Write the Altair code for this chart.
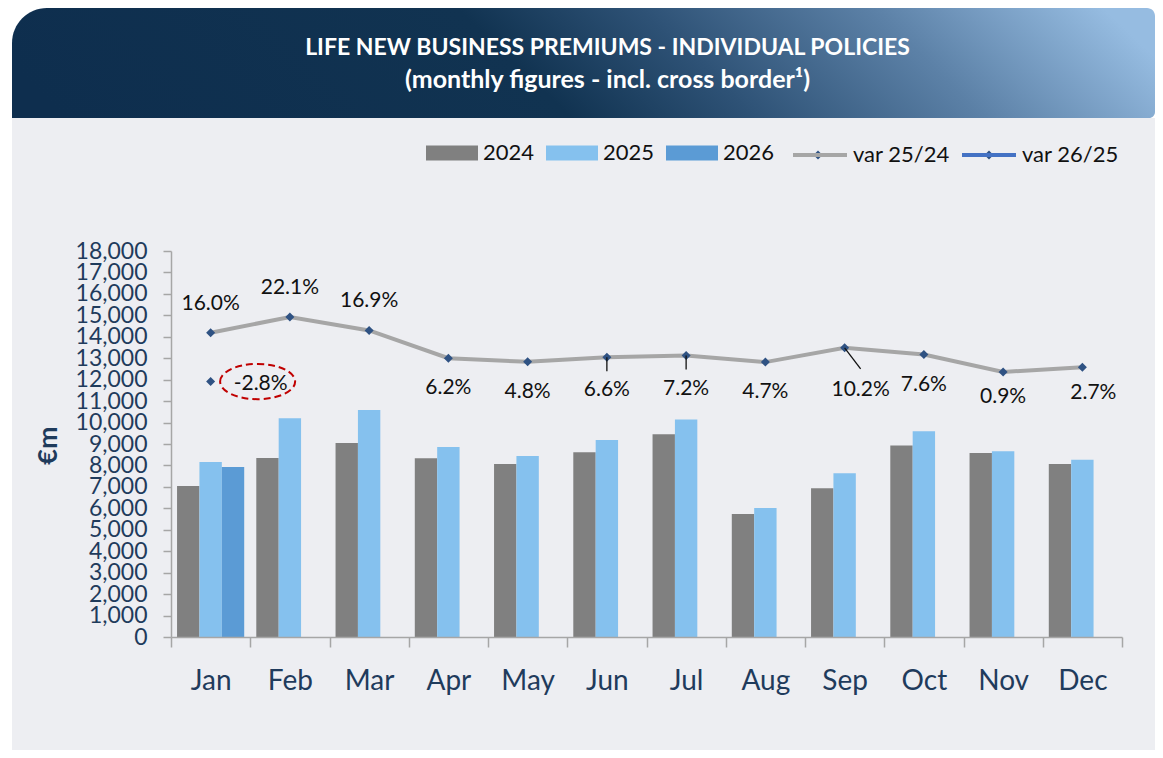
import altair as alt
import pandas as pd

# ---------------- data ----------------
months = ["Jan", "Feb", "Mar", "Apr", "May", "Jun", "Jul", "Aug", "Sep", "Oct", "Nov", "Dec"]
years = ["2024", "2025", "2026"]
v2024 = [7040, 8350, 9050, 8340, 8070, 8620, 9460, 5740, 6940, 8930, 8580, 8070]
v2025 = [8160, 10200, 10590, 8860, 8440, 9190, 10140, 6020, 7640, 9600, 8660, 8270]
v2026 = [7930]
var_25_24 = [16.0, 22.1, 16.9, 6.2, 4.8, 6.6, 7.2, 4.7, 10.2, 7.6, 0.9, 2.7]
var_26_25 = [-2.8]
series_names = ["var 25/24", "var 26/25"]
y_ticks = list(range(0, 18001, 1000))
title_lines = ["LIFE NEW BUSINESS PREMIUMS - INDIVIDUAL POLICIES",
               "(monthly figures - incl. cross border\u00b9)"]

# ---------------- tables ----------------
bar_rows = []
for yr, vals in zip(years, [v2024, v2025, v2026]):
    for m, v in zip(months, vals):
        bar_rows.append({"month": m, "year": yr, "value": v})
bar_df = pd.DataFrame(bar_rows)

line_df = pd.DataFrame({"month": months, "var": var_25_24, "series": series_names[0],
                        "label": [f"{v:.1f}%" for v in var_25_24]})
v26_df = pd.DataFrame({"month": months[:len(var_26_25)], "var": var_26_25, "series": series_names[1],
                       "label": [f"{v:.1f}%" for v in var_26_25]})
pts_df = pd.concat([line_df, v26_df], ignore_index=True)
one = pd.DataFrame({"k": [0]})

# ---------------- style ----------------
FONT = "Lato"
NAVY_TXT = "#1F3B5C"
AXIS_GREY = "#A6A6A6"
MARKER = "#2F5283"
PCT_DOMAIN = [-101.27, 47.53]
LEG_SIZE = 2916
RECT_PATH = "M-0.963,-0.28H0.963V0.28H-0.963Z"
ELLIPSE_PATH = "M-1,0A1,0.47,0,1,1,1,0A1,0.47,0,1,1,-1,0Z"
LEG_Y = -125

x_scale = alt.Scale(domain=months, paddingInner=0, paddingOuter=0)
x_axis = alt.Axis(title=None, labelFont=FONT, labelFontSize=28, labelColor=NAVY_TXT, labelPadding=20,
                  labelAngle=0, tickBand="extent", tickSize=10, tickColor=AXIS_GREY, tickWidth=1.5,
                  domainColor=AXIS_GREY, domainWidth=1.5, grid=False, zindex=2)


def X():
    return alt.X("month:N", scale=x_scale, axis=x_axis)


def PY():
    return alt.Y("var:Q", scale=alt.Scale(domain=PCT_DOMAIN, nice=False, zero=False), axis=None)


# ---------------- decoration ----------------
panel = alt.Chart(one).mark_rect(color="#EDEEF2").encode(
    x=alt.value(-159), x2=alt.value(984), y=alt.value(-133), y2=alt.value(499))

banner = alt.Chart(one).mark_rect(
    cornerRadiusTopLeft=35, cornerRadiusTopRight=8, cornerRadiusBottomRight=6,
    color=alt.Gradient(gradient="linear",
                       stops=[alt.GradientStop(offset=0, color="#0E2E4E"),
                              alt.GradientStop(offset=0.44, color="#113351"),
                              alt.GradientStop(offset=0.60, color="#2E5276"),
                              alt.GradientStop(offset=0.80, color="#5C81A7"),
                              alt.GradientStop(offset=1, color="#96BCE1")],
                       x1=0, y1=0.55, x2=1, y2=0.45)
).encode(x=alt.value(-159), x2=alt.value(984), y=alt.value(-243), y2=alt.value(-133))

title1 = alt.Chart(one).mark_text(font=FONT, fontSize=23, fontWeight="bold", color="white",
                                  align="center", baseline="middle").encode(
    x=alt.value(436.5), y=alt.value(-203), text=alt.value(title_lines[0]))
title2 = alt.Chart(one).mark_text(font=FONT, fontSize=25, fontWeight="bold", color="white",
                                  align="center", baseline="middle").encode(
    x=alt.value(436.5), y=alt.value(-171), text=alt.value(title_lines[1]))

# ---------------- bars ----------------
bars = alt.Chart(bar_df).mark_bar().encode(
    x=X(),
    xOffset=alt.XOffset("year:N", scale=alt.Scale(domain=years, paddingInner=0, paddingOuter=0.27)),
    y=alt.Y("value:Q", scale=alt.Scale(domain=[0, 18000], nice=False),
            axis=alt.Axis(values=y_ticks, format=",d", title="\u20acm", titleFont=FONT, titleFontSize=27,
                          titleFontWeight="bold", titleColor=NAVY_TXT, titleAngle=270, titleX=-123,
                          titleY=194, titleAlign="center", titleBaseline="middle",
                          labelFont=FONT, labelFontSize=23, labelColor=NAVY_TXT, labelPadding=16,
                          labelOverlap=False, labelFlush=False, tickSize=8, tickColor=AXIS_GREY,
                          tickWidth=1.5, domainColor=AXIS_GREY, domainWidth=1.5, grid=False, zindex=2)),
    fill=alt.Fill("year:N", scale=alt.Scale(domain=years, range=["#808080", "#85C1EE", "#5B9BD5"]),
                  legend=alt.Legend(title=None, orient="none", legendX=254, legendY=LEG_Y,
                                    direction="horizontal", symbolType=RECT_PATH, symbolSize=LEG_SIZE,
                                    symbolStrokeWidth=0, labelFont=FONT, labelFontSize=22,
                                    labelColor="#111111", labelOffset=4, columnPadding=10, padding=0,
                                    zindex=2)),
)

# ---------------- variation lines ----------------
line = alt.Chart(line_df).mark_line(strokeWidth=4).encode(
    x=X(), y=PY(),
    stroke=alt.Stroke("series:N", scale=alt.Scale(domain=series_names, range=["#A6A6A6", "#4472C4"]),
                      legend=alt.Legend(title=None, orient="none", legendX=620, legendY=LEG_Y,
                                        direction="horizontal", symbolType="stroke", symbolSize=LEG_SIZE,
                                        symbolStrokeWidth=4, labelFont=FONT, labelFontSize=22,
                                        labelColor="#111111", labelOffset=4, columnPadding=4, padding=0,
                                        zindex=2)),
)

points = alt.Chart(pts_df).mark_point(filled=True, color=MARKER, opacity=1, shape="diamond",
                                      size=81).encode(x=X(), y=PY())

# legend markers drawn on top of the legend lines
leg_d1 = alt.Chart(one).mark_point(filled=True, color=MARKER, opacity=1, shape="diamond", size=81).encode(
    x=alt.value(647), y=alt.value(LEG_Y + 29))
leg_d2 = alt.Chart(one).mark_point(filled=True, color=MARKER, opacity=1, shape="diamond", size=81).encode(
    x=alt.value(818), y=alt.value(LEG_Y + 29))


def pct_labels(df, names, dx, dy):
    return alt.Chart(df).transform_filter(
        alt.FieldOneOfPredicate(field="month", oneOf=names)
    ).mark_text(font=FONT, fontSize=21, color="#111111", dx=dx, dy=dy, align="center",
                baseline="middle").encode(x=X(), y=PY(), text="label:N")


def leader(df, names, dx, dy):
    return alt.Chart(df).transform_filter(
        alt.FieldOneOfPredicate(field="month", oneOf=names)
    ).mark_rule(color="#111111", strokeWidth=1.3, x2Offset=dx, y2Offset=dy).encode(
        x=X(), x2=alt.X2("month"), y=PY(), y2=alt.Y2("var"))


labels = [
    pct_labels(line_df, ["Jan", "Feb", "Mar"], 0, -29),
    pct_labels(line_df, ["Apr", "May", "Aug", "Oct"], 0, 30),
    pct_labels(line_df, ["Jun", "Jul"], 0, 33),
    pct_labels(line_df, ["Sep"], 16, 42),
    pct_labels(line_df, ["Nov"], 0, 25),
    pct_labels(line_df, ["Dec"], 11, 26),
    pct_labels(v26_df, ["Jan"], 50, 2),
]
leaders = [
    leader(line_df, ["Jun", "Jul"], 0, 14),
    leader(line_df, ["Sep"], 16, 21),
]

ellipse = alt.Chart(v26_df).mark_point(shape=ELLIPSE_PATH, size=5625, filled=False, stroke="#C00000",
                                       strokeWidth=2, strokeDash=[7, 4], opacity=1, xOffset=47).encode(
    x=X(), y=PY())

chart = alt.layer(
    panel, banner, title1, title2, bars, line, points, *leaders, *labels, ellipse, leg_d1, leg_d2
).resolve_scale(y="independent").properties(
    width=951, height=386,
    padding={"left": 163, "top": 243, "right": 33, "bottom": 113},
    autosize=alt.AutoSizeParams(type="none"),
    background="white",
).configure_view(stroke=None)

chart.save("out.html", embed_options={"renderer": "svg", "actions": False})
